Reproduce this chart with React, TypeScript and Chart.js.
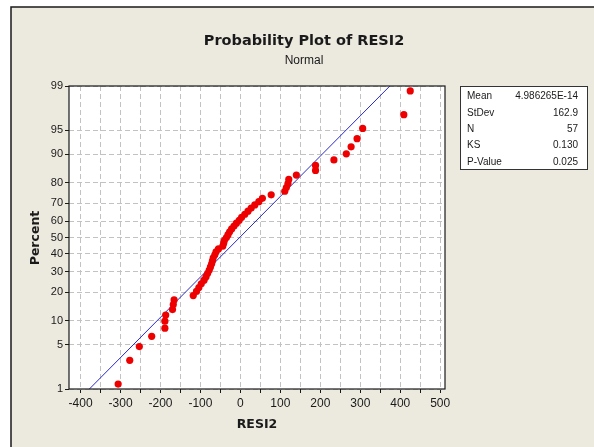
import React, { useEffect, useRef } from "react";
import { Chart, registerables } from "chart.js";

Chart.register(...registerables);

// ---- data ----
const resi2 = [
  -306, -277, -253, -222, -189, -189, -187, -170, -168, -166,
  -118, -110, -104, -98, -91, -86, -82, -78, -75, -72,
  -70, -68, -64, -61, -55, -44, -42, -40, -35, -31,
  -27, -22, -16, -10, -3, 3, 11, 19, 27, 36,
  46, 55, 77, 111, 115, 119, 121, 140, 188, 188,
  234, 265, 277, 292, 306, 409, 425,
];
const percent = [
  1.22, 2.96, 4.70, 6.45, 8.19, 9.93, 11.67, 13.41, 15.16, 16.90,
  18.64, 20.38, 22.13, 23.87, 25.61, 27.35, 29.09, 30.84, 32.58, 34.32,
  36.06, 37.80, 39.55, 41.29, 43.03, 44.77, 46.52, 48.26, 50.00, 51.74,
  53.48, 55.23, 56.97, 58.71, 60.45, 62.20, 63.94, 65.68, 67.42, 69.16,
  70.91, 72.65, 74.39, 76.13, 77.87, 79.62, 81.36, 83.10, 84.84, 86.59,
  88.33, 90.07, 91.81, 93.55, 95.30, 97.04, 98.78,
];
const fitLineX = [-378, 374];
const fitLinePct = [1, 99];
const percentTicks = [1, 5, 10, 20, 30, 40, 50, 60, 70, 80, 90, 95, 99];
const xTicks = [-400, -350, -300, -250, -200, -150, -100, -50, 0, 50, 100, 150, 200, 250, 300, 350, 400, 450, 500];
const xTickLabels = ["-400", "", "-300", "", "-200", "", "-100", "", "0", "", "100", "", "200", "", "300", "", "400", "", "500"];
const statLabels = ["Mean", "StDev", "N", "KS", "P-Value"];
const statValues = ["4.986265E-14", "162.9", "57", "0.130", "0.025"];
const titleText = "Probability Plot of RESI2";
const subtitleText = "Normal";
const xTitle = "RESI2";
const yTitle = "Percent";

// inverse standard normal CDF (probability axis transform)
function invNorm(p: number): number {
  const a = [-3.969683028665376e1, 2.209460984245205e2, -2.759285104469687e2, 1.38357751867269e2, -3.066479806614716e1, 2.506628277459239];
  const b = [-5.447609879822406e1, 1.615858368580409e2, -1.556989798598866e2, 6.680131188771972e1, -1.328068155288572e1];
  const c = [-7.784894002430293e-3, -3.223964580411365e-1, -2.400758277161838, -2.549732539343734, 4.374664141464968, 2.938163982698783];
  const d = [7.784695709041462e-3, 3.224671290700398e-1, 2.445134137142996, 3.754408661907416];
  const pl = 0.02425;
  if (p < pl) {
    const q = Math.sqrt(-2 * Math.log(p));
    return (((((c[0] * q + c[1]) * q + c[2]) * q + c[3]) * q + c[4]) * q + c[5]) / ((((d[0] * q + d[1]) * q + d[2]) * q + d[3]) * q + 1);
  }
  if (p <= 1 - pl) {
    const q = p - 0.5, r = q * q;
    return ((((((a[0] * r + a[1]) * r + a[2]) * r + a[3]) * r + a[4]) * r + a[5]) * q) / (((((b[0] * r + b[1]) * r + b[2]) * r + b[3]) * r + b[4]) * r + 1);
  }
  const q = Math.sqrt(-2 * Math.log(1 - p));
  return -(((((c[0] * q + c[1]) * q + c[2]) * q + c[3]) * q + c[4]) * q + c[5]) / ((((d[0] * q + d[1]) * q + d[2]) * q + d[3]) * q + 1);
}

const W = 594;
const H = 447;

const decorPlugin = {
  id: "decor",
  beforeDraw(chart: any) {
    const ctx = chart.ctx;
    const ca = chart.chartArea;
    ctx.save();
    ctx.fillStyle = "#ffffff";
    ctx.fillRect(0, 0, W, H);
    ctx.fillStyle = "#ECE9DF";
    ctx.fillRect(11, 7, W - 11, H - 7);
    ctx.strokeStyle = "#1a1a1a";
    ctx.lineWidth = 1.5;
    ctx.beginPath();
    ctx.moveTo(11, H);
    ctx.lineTo(11, 7);
    ctx.lineTo(W, 7);
    ctx.stroke();
    // plot area
    ctx.fillStyle = "#ffffff";
    ctx.fillRect(ca.left, ca.top, ca.right - ca.left, ca.bottom - ca.top);
    // titles
    ctx.fillStyle = "#1a1a1a";
    ctx.textAlign = "center";
    ctx.textBaseline = "alphabetic";
    ctx.font = "bold 14.5px 'DejaVu Sans'";
    ctx.fillText(titleText, 304, 45);
    ctx.font = "12px 'Liberation Sans'";
    ctx.fillText(subtitleText, 304, 64);
    // axis titles
    ctx.font = "bold 12.5px 'DejaVu Sans'";
    ctx.textBaseline = "middle";
    ctx.fillText(xTitle, (ca.left + ca.right) / 2, 425);
    ctx.save();
    ctx.translate(36, 238);
    ctx.rotate(-Math.PI / 2);
    ctx.fillText(yTitle, 0, 0);
    ctx.restore();
    // stats box
    ctx.fillStyle = "#ffffff";
    ctx.fillRect(460, 86, 128, 84);
    ctx.strokeStyle = "#333333";
    ctx.lineWidth = 1;
    ctx.strokeRect(460.5, 86.5, 127, 83);
    ctx.fillStyle = "#1a1a1a";
    ctx.font = "10px 'Liberation Sans'";
    ctx.textBaseline = "middle";
    statLabels.forEach((lab, i) => {
      const y = 96.5 + i * 16.4;
      ctx.textAlign = "left";
      ctx.fillText(lab, 467, y);
      ctx.textAlign = "right";
      ctx.fillText(statValues[i], 578, y);
    });
    ctx.restore();
  },
  afterDraw(chart: any) {
    const ctx = chart.ctx;
    const ca = chart.chartArea;
    ctx.save();
    ctx.strokeStyle = "#1a1a1a";
    ctx.lineWidth = 1.2;
    ctx.strokeRect(ca.left, ca.top, ca.right - ca.left, ca.bottom - ca.top);
    ctx.restore();
  },
};

export default function App() {
  const ref = useRef<HTMLCanvasElement | null>(null);
  useEffect(() => {
    if (!ref.current) return;
    const points = resi2.map((x, i) => ({ x, y: invNorm(percent[i] / 100) }));
    const linePts = fitLineX.map((x, i) => ({ x, y: invNorm(fitLinePct[i] / 100) }));
    const chart = new Chart(ref.current, {
      type: "scatter",
      data: {
        datasets: [
          {
            type: "line",
            data: linePts,
            borderColor: "#2b2bc4",
            borderWidth: 1,
            pointRadius: 0,
            showLine: true,
            fill: false,
            order: 2,
          } as any,
          {
            data: points,
            backgroundColor: "#ee0000",
            borderColor: "#ee0000",
            pointRadius: 3.6,
            borderWidth: 0,
            order: 1,
          },
        ],
      },
      options: {
        responsive: false,
        animation: false,
        events: [],
        layout: { padding: { top: 86, right: 149, left: 0, bottom: 0 } },
        plugins: { legend: { display: false }, tooltip: { enabled: false }, title: { display: false } },
        scales: {
          x: {
            type: "linear",
            min: -429,
            max: 512,
            afterBuildTicks: (s: any) => {
              s.ticks = xTicks.map((v) => ({ value: v }));
            },
            afterFit: (s: any) => {
              s.height = 58;
            },
            ticks: {
              autoSkip: false,
              maxRotation: 0,
              padding: 3,
              color: "#1a1a1a",
              font: { family: "'Liberation Sans'", size: 12 },
              callback: (_v: any, i: number) => xTickLabels[i],
            },
            grid: {
              color: "#c2c2c2",
              lineWidth: 1,
              drawTicks: true,
              tickLength: 4,
              tickColor: "#1a1a1a",
              tickBorderDash: [],
              tickWidth: 1,
            } as any,
            border: { display: false, dash: [5, 3] } as any,
          },
          y: {
            type: "linear",
            min: invNorm(percentTicks[0] / 100),
            max: invNorm(percentTicks[percentTicks.length - 1] / 100),
            afterBuildTicks: (s: any) => {
              s.ticks = percentTicks.map((p) => ({ value: invNorm(p / 100) }));
            },
            afterFit: (s: any) => {
              s.width = 69;
            },
            ticks: {
              autoSkip: false,
              padding: 2,
              color: "#1a1a1a",
              font: { family: "'Liberation Sans'", size: 11 },
              callback: (_v: any, i: number) => String(percentTicks[i]),
            },
            grid: {
              color: "#c2c2c2",
              lineWidth: 1,
              drawTicks: true,
              tickLength: 4,
              tickColor: "#1a1a1a",
              tickBorderDash: [],
              tickWidth: 1,
            } as any,
            border: { display: false, dash: [5, 3] } as any,
          },
        },
      },
      plugins: [decorPlugin],
    });
    return () => chart.destroy();
  }, []);
  return (
    <div style={{ position: "fixed", left: 0, top: 0, width: W, height: H }}>
      <canvas ref={ref} width={W} height={H} style={{ display: "block", width: W, height: H }} />
    </div>
  );
}
